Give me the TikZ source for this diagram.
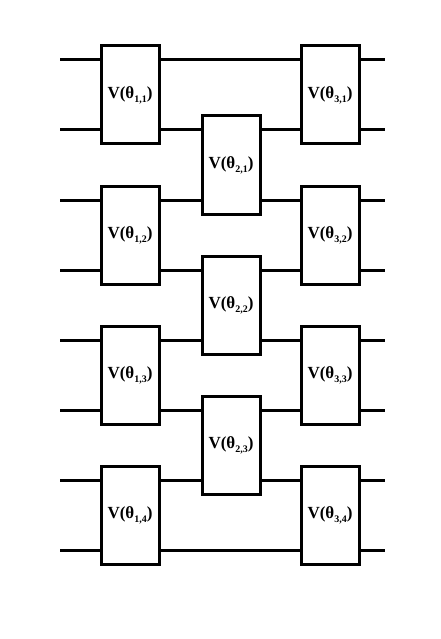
\documentclass[tikz,border=0pt]{standalone}
\usepackage{fontspec}
\setmainfont{Liberation Serif}
\usetikzlibrary{positioning}
\newcommand{\gsub}[1]{\raisebox{-4pt}{\fontsize{10}{11}\selectfont #1}}
\begin{document}
\begin{tikzpicture}
[
  x=1pt, y=-1pt,
  gate/.style={rectangle, draw, fill=white, line width=3pt, minimum width=58pt, minimum height=98pt, inner sep=0pt, font=\bfseries\fontsize{17}{19}\selectfont},
  wire/.style={line width=3pt}
]
 \useasboundingbox (0,0) rectangle (441,639);

 % wires
 \foreach \k/\y in {1/60,2/130,3/200,4/270,5/340,6/410,7/480,8/550}
 {
   \coordinate (in\k) at (60,\y);
   \coordinate (out\k) at (385,\y);
   \draw[wire] (in\k) -- (out\k);
 }

 % first layer
 \node[gate] (v11) at (130,95) {V(θ\gsub{1,1})};
 \node[gate] (v12) at (130,235) {V(θ\gsub{1,2})};
 \node[gate] (v13) at (130,375) {V(θ\gsub{1,3})};
 \node[gate] (v14) at (130,515) {V(θ\gsub{1,4})};

 % second layer
 \node[gate] (v21) at (231,165) {V(θ\gsub{2,1})};
 \node[gate] (v22) at (231,305) {V(θ\gsub{2,2})};
 \node[gate] (v23) at (231,445) {V(θ\gsub{2,3})};

 % third layer
 \node[gate] (v31) at (330,95) {V(θ\gsub{3,1})};
 \node[gate] (v32) at (330,235) {V(θ\gsub{3,2})};
 \node[gate] (v33) at (330,375) {V(θ\gsub{3,3})};
 \node[gate] (v34) at (330,515) {V(θ\gsub{3,4})};
\end{tikzpicture}
\end{document}
